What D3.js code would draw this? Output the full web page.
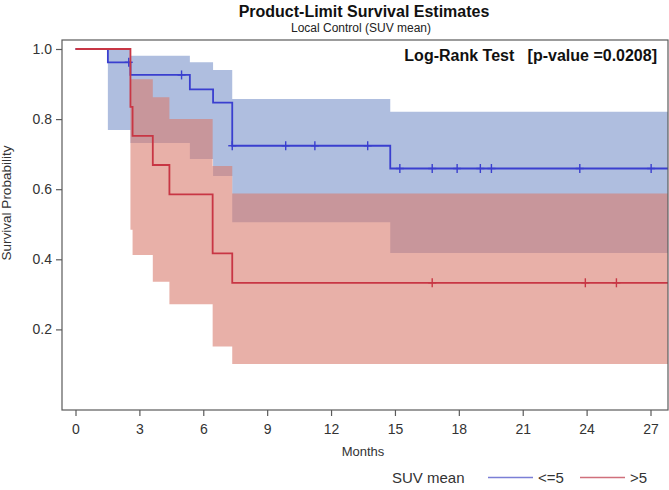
<!DOCTYPE html>
<html>
<head>
<meta charset="utf-8">
<script src="https://cdn.jsdelivr.net/npm/d3@7"></script>
<style>
  html, body { margin: 0; padding: 0; background: #fff; }
  svg { display: block; font-family: "Liberation Sans", Arial, sans-serif; }
</style>
</head>
<body>
<svg id="chart" width="669" height="490"></svg>
<script>
// ---- data ----
const xTicks = [0, 3, 6, 9, 12, 15, 18, 21, 24, 27];
const yTicks = [0.2, 0.4, 0.6, 0.8, 1.0];

// SUV mean <= 5
const blueTimes = [0, 1.52, 2.58, 5.37, 6.46, 7.36, 14.78];
const blueSurv  = [1, 0.962, 0.926, 0.885, 0.847, 0.724, 0.659];
const blueLower = [1, 0.769, 0.732, 0.686, 0.638, 0.506, 0.418];
const blueUpper = [1, 0.997, 0.981, 0.962, 0.940, 0.857, 0.821];
const blueCensor = [2.5, 4.98, 7.36, 9.87, 11.24, 13.72, 15.23, 16.75, 17.92, 19.01, 19.53, 23.68, 27.03];

// SUV mean > 5
const redTimes = [0, 2.58, 2.68, 3.63, 4.41, 6.44, 7.36];
const redSurv  = [1, 0.835, 0.752, 0.669, 0.585, 0.417, 0.333];
const redLower = [1, 0.484, 0.412, 0.336, 0.272, 0.151, 0.101];
const redUpper = [1, 0.914, 0.914, 0.862, 0.800, 0.666, 0.588];
const redCensor = [16.75, 23.94, 25.4];

const groups = ["<=5", ">5"];
const title = "Product-Limit Survival Estimates";
const subtitle = "Local Control (SUV mean)";
const testText = "Log-Rank Test   [p-value =0.0208]";

// ---- layout ----
const svg = d3.select("#chart");
const plot = { left: 62, right: 668, top: 40, bottom: 410 };
const x = d3.scaleLinear().domain([0, 27]).range([75.5, 650.5]);
const y = d3.scaleLinear().domain([0, 1]).range([399.5, 49]);
const tEnd = x.invert(plot.right);

const series = [
  { name: groups[0], times: blueTimes, surv: blueSurv, lo: blueLower, hi: blueUpper, censor: blueCensor,
    band: "#afbedf", bandOpacity: 1, line: "#3a3fcf", legend: "#7b7fd6" },
  { name: groups[1], times: redTimes, surv: redSurv, lo: redLower, hi: redUpper, censor: redCensor,
    band: "rgb(217,123,110)", bandOpacity: 0.6, line: "#c83644", legend: "#d0707c" }
];

svg.append("clipPath").attr("id", "clip").append("rect")
  .attr("x", plot.left).attr("y", plot.top)
  .attr("width", plot.right - plot.left).attr("height", plot.bottom - plot.top);

const g = svg.append("g").attr("clip-path", "url(#clip)");

// bands
series.forEach(s => {
  const pts = s.times.map((t, i) => ({ t, lo: s.lo[i], hi: s.hi[i] })).slice(1);
  const last = pts[pts.length - 1];
  pts.push({ t: tEnd, lo: last.lo, hi: last.hi });
  const area = d3.area().curve(d3.curveStepAfter)
    .x(d => x(d.t)).y0(d => y(d.lo)).y1(d => y(d.hi));
  g.append("path").datum(pts).attr("d", area)
    .attr("fill", s.band).attr("fill-opacity", s.bandOpacity);
});

// lines and censor marks
series.forEach(s => {
  const pts = s.times.map((t, i) => ({ t, v: s.surv[i] }));
  pts.push({ t: tEnd, v: s.surv[s.surv.length - 1] });
  const line = d3.line().curve(d3.curveStepAfter).x(d => x(d.t)).y(d => y(d.v));
  g.append("path").datum(pts).attr("d", line)
    .attr("fill", "none").attr("stroke", s.line).attr("stroke-width", 1.8);
  const bis = d3.bisector(d => d).right;
  const marks = s.censor.map(t => ({ t, v: s.surv[Math.max(0, bis(s.times, t) - 1)] }));
  const mg = g.append("g").attr("stroke", s.line).attr("stroke-width", 1.4);
  mg.selectAll("line.v").data(marks).join("line").attr("class", "v")
    .attr("x1", d => x(d.t)).attr("x2", d => x(d.t))
    .attr("y1", d => y(d.v) - 4.5).attr("y2", d => y(d.v) + 4.5);
  mg.selectAll("line.h").data(marks).join("line").attr("class", "h")
    .attr("x1", d => x(d.t) - 4).attr("x2", d => x(d.t) + 4)
    .attr("y1", d => y(d.v)).attr("y2", d => y(d.v));
});

// frame
svg.append("rect")
  .attr("x", plot.left).attr("y", plot.top)
  .attr("width", plot.right - plot.left).attr("height", plot.bottom - plot.top)
  .attr("fill", "none").attr("stroke", "#5a5a5a").attr("stroke-width", 1.2);

// axes
const yAxis = svg.append("g").attr("transform", `translate(${plot.left},0)`)
  .call(d3.axisLeft(y).tickValues(yTicks).tickFormat(d3.format(".1f")).tickSize(6).tickPadding(4));
const xAxis = svg.append("g").attr("transform", `translate(0,${plot.bottom})`)
  .call(d3.axisBottom(x).tickValues(xTicks).tickFormat(d3.format("d")).tickSize(6).tickPadding(8));
[yAxis, xAxis].forEach(a => {
  a.select(".domain").remove();
  a.selectAll(".tick line").attr("stroke", "#5a5a5a").attr("stroke-width", 1.2);
  a.selectAll(".tick text").attr("fill", "#333").style("font-size", "14px")
    .style("font-family", "'Liberation Sans', Arial, sans-serif");
});

// titles
svg.append("text").attr("x", 364).attr("y", 17).attr("text-anchor", "middle")
  .style("font-size", "16px").style("font-weight", "bold").attr("fill", "#111").text(title);
svg.append("text").attr("x", 361).attr("y", 32).attr("text-anchor", "middle")
  .style("font-size", "12px").attr("fill", "#222").text(subtitle);
svg.append("text").attr("x", 657).attr("y", 61).attr("text-anchor", "end")
  .style("font-size", "16px").style("font-weight", "bold").attr("fill", "#111")
  .attr("xml:space", "preserve").style("white-space", "pre").text(testText);

// axis labels
svg.append("text").attr("x", 363).attr("y", 456).attr("text-anchor", "middle")
  .style("font-size", "13px").attr("fill", "#333").text("Months");
svg.append("text").attr("transform", "translate(11,203) rotate(-90)").attr("text-anchor", "middle")
  .style("font-size", "13.5px").attr("fill", "#333").text("Survival Probability");

// legend
const leg = svg.append("g").attr("transform", "translate(0,483)");
leg.append("text").attr("x", 392).attr("y", 0).style("font-size", "15px").attr("fill", "#333").text("SUV mean");
const legX = [488, 580];
series.forEach((s, i) => {
  leg.append("line").attr("x1", legX[i]).attr("x2", legX[i] + 45).attr("y1", -5.5).attr("y2", -5.5)
    .attr("stroke", s.legend).attr("stroke-width", 1.5);
  leg.append("text").attr("x", legX[i] + 50).attr("y", 0).style("font-size", "15px").attr("fill", "#333").text(s.name);
});
</script>
</body>
</html>
